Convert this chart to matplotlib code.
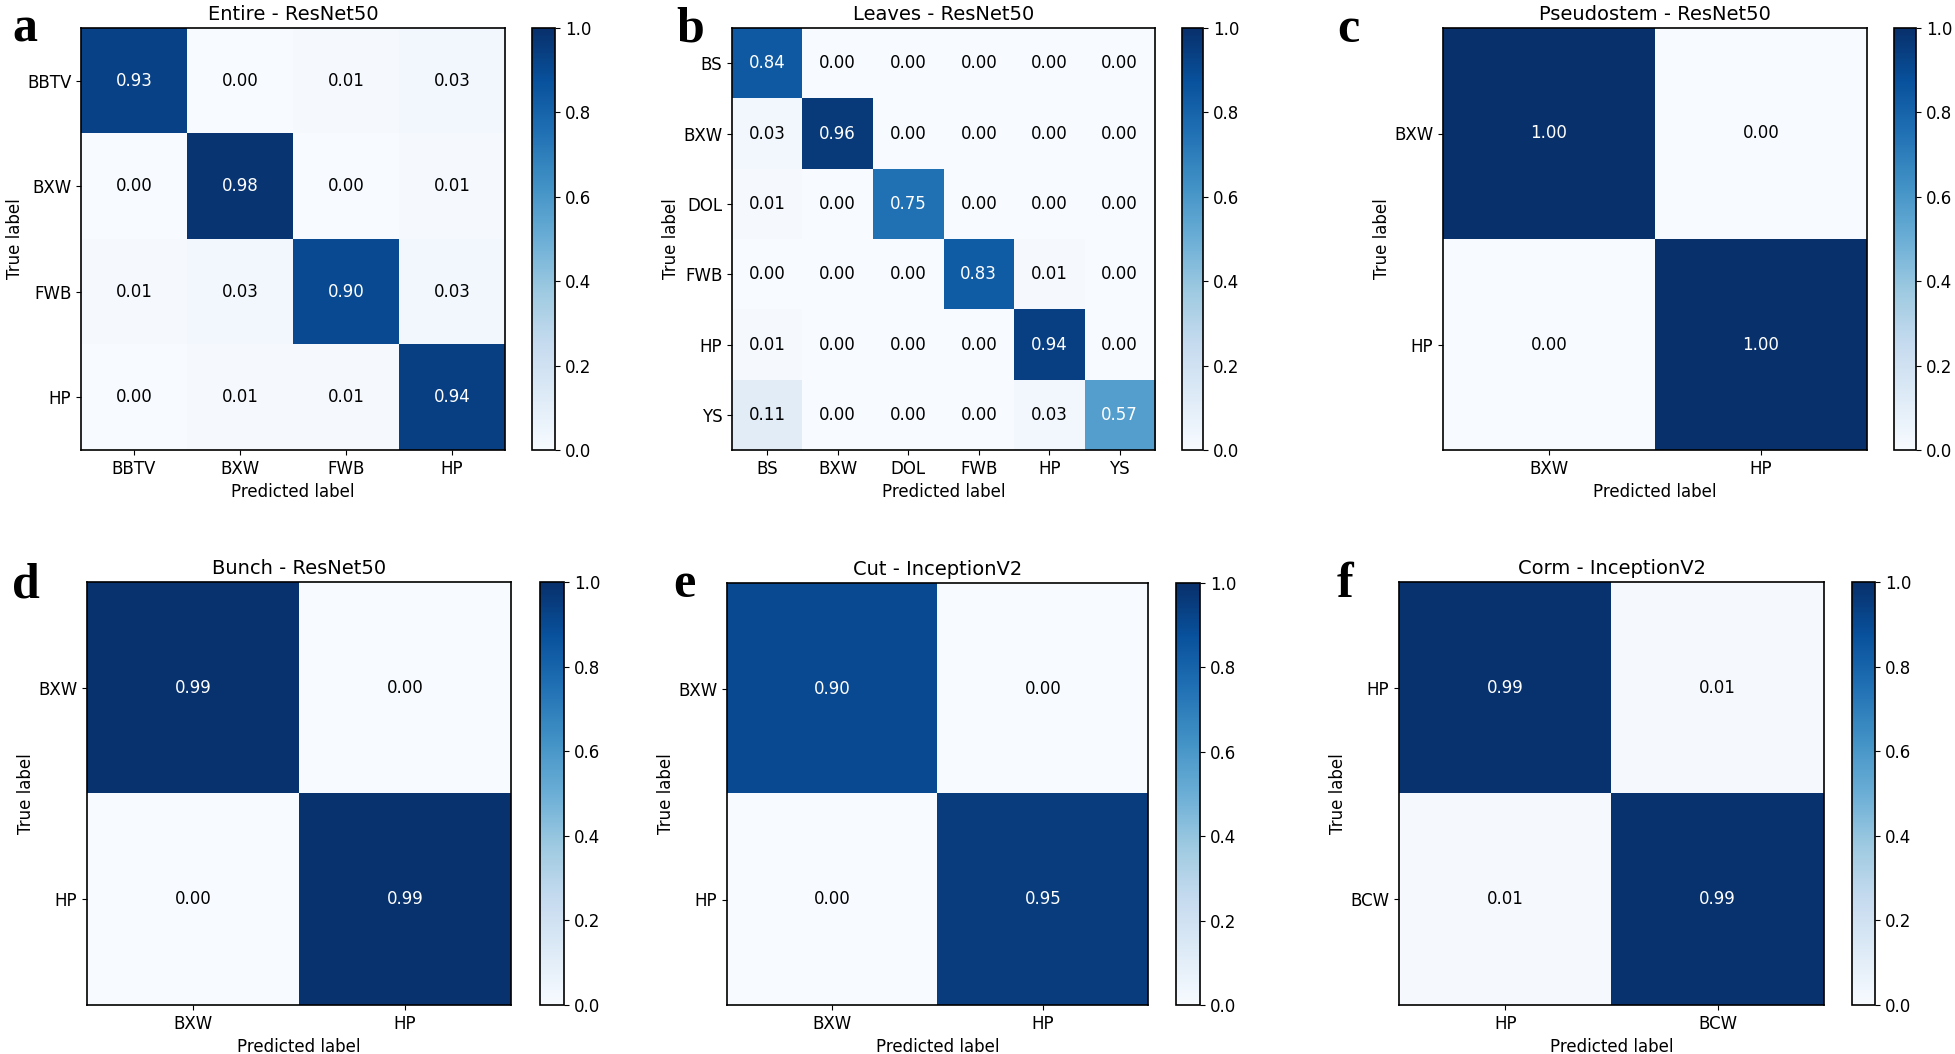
import numpy as np
import matplotlib
matplotlib.use("Agg")
import matplotlib.pyplot as plt

W, H = 1955, 1054

# ---------------- data ----------------
titles = ["Entire - ResNet50", "Leaves - ResNet50", "Pseudostem - ResNet50",
          "Bunch - ResNet50", "Cut - InceptionV2", "Corm - InceptionV2"]
letters = ["a", "b", "c", "d", "e", "f"]

labels_a = ["BBTV", "BXW", "FWB", "HP"]
cm_a = [[0.93, 0.00, 0.01, 0.03],
        [0.00, 0.98, 0.00, 0.01],
        [0.01, 0.03, 0.90, 0.03],
        [0.00, 0.01, 0.01, 0.94]]

labels_b = ["BS", "BXW", "DOL", "FWB", "HP", "YS"]
cm_b = [[0.84, 0.00, 0.00, 0.00, 0.00, 0.00],
        [0.03, 0.96, 0.00, 0.00, 0.00, 0.00],
        [0.01, 0.00, 0.75, 0.00, 0.00, 0.00],
        [0.00, 0.00, 0.00, 0.83, 0.01, 0.00],
        [0.01, 0.00, 0.00, 0.00, 0.94, 0.00],
        [0.11, 0.00, 0.00, 0.00, 0.03, 0.57]]

labels_c = ["BXW", "HP"]
cm_c = [[1.00, 0.00],
        [0.00, 1.00]]

labels_d = ["BXW", "HP"]
cm_d = [[0.99, 0.00],
        [0.00, 0.99]]

labels_e = ["BXW", "HP"]
cm_e = [[0.90, 0.00],
        [0.00, 0.95]]

labels_f = ["HP", "BCW"]
cm_f = [[0.99, 0.01],
        [0.01, 0.99]]

matrices = [cm_a, cm_b, cm_c, cm_d, cm_e, cm_f]
label_sets = [labels_a, labels_b, labels_c, labels_d, labels_e, labels_f]

# ---------------- layout (pixels) ----------------
axes_px = [(81, 28, 505, 450), (732, 28, 1155, 450), (1443, 28, 1867, 450),
           (87, 582, 511, 1005), (727, 583, 1148, 1005), (1399, 582, 1824, 1005)]
cbar_px = [(532, 555), (1182, 1203), (1894, 1916),
           (540, 564), (1176, 1200), (1852, 1875)]
letter_px = [(12, 30), (676, 30), (1337, 30), (12, 585), (673, 585), (1337, 585)]


def rect(x0, y0, x1, y1):
    return [x0 / W, 1 - y1 / H, (x1 - x0) / W, (y1 - y0) / H]


plt.rcParams['font.family'] = ['DejaVu Sans']
fig = plt.figure(figsize=(W / 100, H / 100), dpi=100)

for i in range(6):
    cm = np.array(matrices[i])
    labs = label_sets[i]
    x0, y0, x1, y1 = axes_px[i]
    ax = fig.add_axes(rect(x0, y0, x1, y1))
    im = ax.imshow(cm, cmap="Blues", vmin=0, vmax=1, aspect="auto",
                   interpolation="nearest")
    n = len(labs)
    ax.set_xticks(range(n))
    ax.set_yticks(range(n))
    ax.set_xticklabels(labs, fontsize=12)
    ax.set_yticklabels(labs, fontsize=12)
    ax.set_title(titles[i], fontsize=14, pad=6)
    ax.set_xlabel("Predicted label", fontsize=12, labelpad=4)
    ax.set_ylabel("True label", fontsize=12, labelpad=2)
    thresh = cm.max() / 2.0
    for r in range(n):
        for c in range(n):
            ax.text(c, r, f"{cm[r, c]:.2f}", ha="center", va="center",
                    fontsize=12,
                    color="white" if cm[r, c] > thresh else "black")
    for s in ax.spines.values():
        s.set_linewidth(1.2)

    cx0, cx1 = cbar_px[i]
    cax = fig.add_axes(rect(cx0, y0, cx1, y1))
    cb = fig.colorbar(im, cax=cax)
    cb.set_ticks([0.0, 0.2, 0.4, 0.6, 0.8, 1.0])
    cb.ax.tick_params(labelsize=12)
    cb.outline.set_linewidth(1.2)

    lx, ly = letter_px[i]
    fig.text(lx / W, 1 - ly / H, letters[i], fontsize=36, fontweight="bold",
             family="Liberation Serif", ha="left", va="center")

fig.savefig("out.png", dpi=100)
